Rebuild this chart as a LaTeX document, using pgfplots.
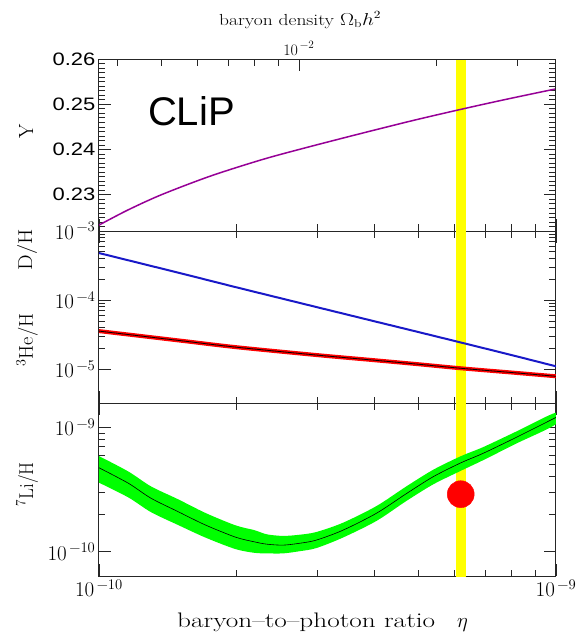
\documentclass[border=0pt]{standalone}
\usepackage{pgfplots}
\pgfplotsset{compat=1.18}
\usepackage{graphicx}
\usepackage{fontspec}
\newfontfamily\arial{Liberation Sans}
\definecolor{ypurple}{RGB}{150,0,150}
\definecolor{dblue}{RGB}{25,25,200}
\definecolor{bandgreen}{RGB}{0,255,0}
\definecolor{bandyellow}{RGB}{255,255,0}
\newcommand\fs[1]{\fontsize{#1}{#1}\selectfont}
\newcommand\tl[1]{10\textsuperscript{\,−#1}}
\newcommand\yl[1]{\scalebox{1.22}[1]{#1}}

\pgfplotsset{
  every axis/.append style={
    width=457pt, scale only axis, xmode=log, xmin=1e-10, xmax=1e-9,
    clip mode=individual,
    axis line style={black!85, line width=0.9pt},
    major tick length=12pt, minor tick length=6.5pt,
    tick style={black!85, line width=0.7pt},
    xticklabel style={font=\fs{21}},
    yticklabel style={font=\fs{21}},
  }
}

\begin{document}
\begin{tikzpicture}
\useasboundingbox (0pt,0pt) rectangle (587pt,-635pt);
% ---------------- top panel: Y
\begin{axis}[height=172pt, at={(99pt,-59pt)}, anchor=north west,
  ymin=0.222, ymax=0.26, ytick={0.23,0.24,0.25,0.26},
  yticklabels={\yl{0.23},\yl{0.24},\yl{0.25},\yl{0.26}},
  yticklabel style={font=\arial\fs{18}},
  minor ytick={0.222,0.223,...,0.2605},
  xtick pos=left, xticklabels={}]
\addplot[fill=bandyellow, draw=none] coordinates {(6.04e-10,0.2) (6.36e-10,0.2) (6.36e-10,0.3) (6.04e-10,0.3)} -- cycle;
\addplot[ypurple, line width=1.5pt, smooth] coordinates {
(1.00e-10,0.2233) (1.155e-10,0.2266) (1.369e-10,0.2300) (1.75e-10,0.2341)
(2.28e-10,0.2378) (2.86e-10,0.2405) (3.73e-10,0.2435) (4.86e-10,0.2464)
(6.21e-10,0.2489) (7.79e-10,0.2511) (1.00e-9,0.2534)};
\node[anchor=base west, inner sep=0, font=\arial\fs{40}] at (rel axis cs:0.107,0.616) {CLiP};
\end{axis}
% overlay: Omega_b h^2 axis
\begin{axis}[height=172pt, at={(99pt,-59pt)}, anchor=north west,
  ymin=0, ymax=1, ytick=\empty, xtick pos=right, xticklabel pos=right,
  xtick={2.739e-10}, xticklabels={\tl{2}},
  minor xtick={1.0956e-10,1.3695e-10,1.6434e-10,1.9173e-10,2.1912e-10,2.4651e-10,5.478e-10,8.217e-10},
  xticklabel style={font=\fs{16}}]
\end{axis}
% ---------------- middle panel: D/H, 3He/H
\begin{axis}[height=172pt, at={(99pt,-231pt)}, anchor=north west,
  ymode=log, ymin=3.24e-6, ymax=1e-3, ytick={1e-5,1e-4,1e-3},
  yticklabels={\tl{5},\tl{4},\tl{3}}, xticklabels={}]
\addplot[fill=bandyellow, draw=none] coordinates {(6.04e-10,1e-6) (6.36e-10,1e-6) (6.36e-10,1e-2) (6.04e-10,1e-2)} -- cycle;
\addplot[dblue, line width=2pt, smooth] coordinates {
(1.0e-10,4.8e-4) (1.5e-10,2.47e-4) (2.0e-10,1.53e-4) (3.0e-10,7.9e-5)
(4.0e-10,4.95e-5) (5.0e-10,3.45e-5) (6.2e-10,2.43e-5) (8.0e-10,1.6e-5) (1.0e-9,1.1e-5)};
\addplot[red, line width=4pt, smooth] coordinates {
(1.0e-10,3.56e-5) (1.5e-10,2.6e-5) (2.0e-10,2.08e-5) (3.0e-10,1.6e-5)
(4.0e-10,1.35e-5) (5.0e-10,1.18e-5) (6.2e-10,1.03e-5) (8.0e-10,8.95e-6) (1.0e-9,7.9e-6)};
\addplot[black, line width=0.8pt, smooth] coordinates {
(1.0e-10,3.56e-5) (1.5e-10,2.6e-5) (2.0e-10,2.08e-5) (3.0e-10,1.6e-5)
(4.0e-10,1.35e-5) (5.0e-10,1.18e-5) (6.2e-10,1.03e-5) (8.0e-10,8.95e-6) (1.0e-9,7.9e-6)};
\end{axis}
% ---------------- bottom panel: 7Li/H
\begin{axis}[height=173pt, at={(99pt,-403pt)}, anchor=north west,
  ymode=log, ymin=6.38e-11, ymax=1.567e-9, ytick={1e-10,1e-9},
  yticklabels={\tl{10},\tl{9}},
  xtick={1e-10,1e-9}, xticklabels={\tl{10},\tl{9}}]
\addplot[fill=bandyellow, draw=none] coordinates {(6.04e-10,1e-11) (6.36e-10,1e-11) (6.36e-10,1e-8) (6.04e-10,1e-8)} -- cycle;
\addplot[fill=bandgreen, draw=none, smooth, tension=0.5] coordinates {
(1.00e-10,5.87e-10) (1.16e-10,4.41e-10) (1.30e-10,3.35e-10) (1.49e-10,2.64e-10)
(1.71e-10,2.05e-10) (1.99e-10,1.63e-10) (2.19e-10,1.49e-10) (2.33e-10,1.38e-10)
(2.53e-10,1.34e-10) (2.75e-10,1.37e-10) (2.99e-10,1.44e-10) (3.42e-10,1.71e-10)
(4.05e-10,2.33e-10) (4.70e-10,3.34e-10) (5.39e-10,4.56e-10) (6.20e-10,5.87e-10)
(6.93e-10,6.93e-10) (8.20e-10,9.27e-10) (1.00e-9,1.31e-9)
(1.00e-9,1.06e-9) (8.20e-10,7.42e-10) (6.93e-10,5.44e-10) (6.20e-10,4.48e-10)
(5.39e-10,3.48e-10) (4.70e-10,2.55e-10) (4.05e-10,1.77e-10) (3.42e-10,1.30e-10)
(2.99e-10,1.07e-10) (2.75e-10,1.01e-10) (2.53e-10,9.7e-11) (2.33e-10,9.7e-11)
(2.19e-10,9.8e-11) (1.99e-10,1.05e-10) (1.71e-10,1.30e-10) (1.49e-10,1.64e-10)
(1.30e-10,2.08e-10) (1.16e-10,2.73e-10) (1.00e-10,3.59e-10)} -- cycle;
\addplot[black, line width=0.6pt, smooth] coordinates {
(1.00e-10,4.73e-10) (1.16e-10,3.55e-10) (1.30e-10,2.69e-10) (1.49e-10,2.10e-10)
(1.71e-10,1.64e-10) (1.99e-10,1.31e-10) (2.19e-10,1.20e-10) (2.33e-10,1.15e-10)
(2.53e-10,1.13e-10) (2.75e-10,1.17e-10) (2.99e-10,1.24e-10) (3.42e-10,1.49e-10)
(4.05e-10,2.04e-10) (4.70e-10,2.92e-10) (5.39e-10,4.01e-10) (6.20e-10,5.19e-10)
(6.93e-10,6.18e-10) (8.20e-10,8.32e-10) (1.00e-9,1.20e-9)};
\addplot[only marks, mark=*, mark size=13.5pt, red, mark options={draw=none, fill=red}] coordinates {(6.19e-10,2.9e-10)};
\end{axis}
% ---------------- text labels
\node[anchor=base west, inner sep=0pt, font=\fs{16}] at (219pt,-25pt)
  {\resizebox{162pt}{\height}{baryon density $\Omega_{\mathrm{b}}h^2$}};
\node[anchor=base west, inner sep=0pt, font=\fs{21}] at (177pt,-627pt)
  {\resizebox{258pt}{\height}{baryon--to--photon ratio}\hspace{22pt}$\eta$};
\node[rotate=90, inner sep=0pt, font=\fs{20}] at (26pt,-131pt) {\resizebox{!}{14pt}{Y}};
\node[rotate=90, inner sep=0pt, font=\fs{20}] at (27pt,-249.5pt) {\resizebox{41pt}{\height}{D/H}};
\node[rotate=90, inner sep=0pt, font=\fs{20}] at (27pt,-340pt) {\resizebox{53pt}{\height}{\textsuperscript{3}He/H}};
\node[rotate=90, inner sep=0pt, font=\fs{20}] at (27pt,-484pt) {\resizebox{44pt}{\height}{\textsuperscript{7}Li/H}};
\end{tikzpicture}
\end{document}
